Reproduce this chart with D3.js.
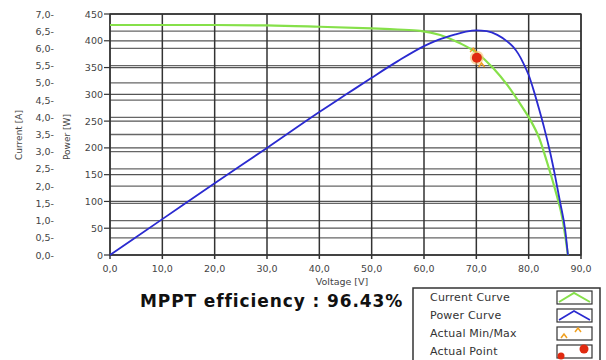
<!DOCTYPE html>
<html><head><meta charset="utf-8">
<script src="https://cdn.jsdelivr.net/npm/d3@7"></script>
<style>body{margin:0;background:#fff}svg{display:block}text{font-family:"DejaVu Sans",sans-serif}</style>
</head><body><svg id="c" width="606" height="360"></svg>
<script>
const currentVoltage = [0,10,20,30,40,50,55,59.3,63.1,66.9,69.8,73.3,75.9,78.5,80.4,82,83.5,85,86.5,87.5];
const currentA = [6.68,6.68,6.68,6.67,6.63,6.58,6.55,6.51,6.39,6.15,5.90,5.42,4.94,4.36,3.90,3.40,2.70,1.93,1.02,0];
const powerVoltage = [0,10,20,30,40,45,50,55,60,62,64,66,68,70,72,74,76,77,78,79,80,81,82,83,84,85,86,87,87.5];
const powerW = [0,67,134,200,267,299,331,362,390,399,406,412,417,419.5,418,411,398,389,376,358,336,306,272,236,196,150,99,45,0];
const minMaxPts = [{v:69.4,i:5.95},{v:71.0,i:5.52}];
const actualPoint = {v:70.1, i:5.73};
const xTicks = [0,10,20,30,40,50,60,70,80,90];
const powerTicks = [0,50,100,150,200,250,300,350,400,450];
const currentTicks = [0,0.5,1,1.5,2,2.5,3,3.5,4,4.5,5,5.5,6,6.5,7];
const legendItems = ["Current Curve","Power Curve","Actual Min/Max","Actual Point"];
const efficiencyText = "MPPT efficiency : 96.43%";

const svg = d3.select("#c");
const x = d3.scaleLinear([0,90],[110,581]);
const yP = d3.scaleLinear([0,450],[255,14]);
const yI = d3.scaleLinear([0,7],[255,14]);
const fmt = v => d3.format(".1f")(v).replace(".", ",");

// grid
const g = svg.append("g");
g.selectAll(".hi").data(currentTicks).join("line")
  .attr("x1",110).attr("x2",581).attr("y1",d=>yI(d)).attr("y2",d=>yI(d))
  .attr("stroke","#666").attr("stroke-width",1.3);
g.selectAll(".hp").data(powerTicks).join("line")
  .attr("x1",110).attr("x2",581).attr("y1",d=>yP(d)).attr("y2",d=>yP(d))
  .attr("stroke","#555").attr("stroke-width",1.3);
g.selectAll(".v").data(xTicks).join("line")
  .attr("x1",d=>x(d)).attr("x2",d=>x(d)).attr("y1",14).attr("y2",259)
  .attr("stroke","#333").attr("stroke-width",1.5);
svg.append("rect").attr("x",110).attr("y",14).attr("width",471).attr("height",241)
  .attr("fill","none").attr("stroke","#333").attr("stroke-width",1.3);

// axes labels
svg.selectAll(".pt").data(powerTicks).join("line")
  .attr("x1",104).attr("x2",110).attr("y1",d=>yP(d)).attr("y2",d=>yP(d)).attr("stroke","#333").attr("stroke-width",1.2);
svg.selectAll(".pl").data(powerTicks).join("text")
  .attr("x",103).attr("y",d=>yP(d)+3.5).attr("text-anchor","end")
  .attr("font-size",9.5).attr("fill","#444").text(d=>d);
svg.selectAll(".cl").data(currentTicks).join("text")
  .attr("x",54).attr("y",d=>yI(d)+3.5).attr("text-anchor","end")
  .attr("font-size",9.5).attr("fill","#444").text(d=>fmt(d)+"-");
svg.selectAll(".xl").data(xTicks).join("text")
  .attr("x",d=>x(d)).attr("y",272).attr("text-anchor","middle")
  .attr("font-size",9.5).attr("fill","#444").text(d=>fmt(d));
svg.append("text").attr("x",342).attr("y",285).attr("text-anchor","middle")
  .attr("font-size",9.5).attr("fill","#444").text("Voltage [V]");
svg.append("text").attr("transform","translate(22,135) rotate(-90)").attr("text-anchor","middle")
  .attr("font-size",9).attr("fill","#444").text("Current [A]");
svg.append("text").attr("transform","translate(70,137) rotate(-90)").attr("text-anchor","middle")
  .attr("font-size",9).attr("fill","#444").text("Power [W]");

// curves
const cData = currentVoltage.map((v,k)=>({v, i:currentA[k]}));
const pData = powerVoltage.map((v,k)=>({v, p:powerW[k]}));
svg.append("path").datum(cData)
  .attr("d", d3.line().x(d=>x(d.v)).y(d=>yI(d.i)).curve(d3.curveMonotoneX))
  .attr("fill","none").attr("stroke","#86e04a").attr("stroke-width",2.2);
svg.append("path").datum(pData)
  .attr("d", d3.line().x(d=>x(d.v)).y(d=>yP(d.p)).curve(d3.curveMonotoneX))
  .attr("fill","none").attr("stroke","#2a2ad0").attr("stroke-width",1.8);

// actual point + min/max
svg.append("circle").attr("cx",x(actualPoint.v)).attr("cy",yI(actualPoint.i)).attr("r",7).attr("fill","#f7c070").attr("opacity",0.6);
svg.selectAll(".mm").data(minMaxPts).join("path")
  .attr("d",d=>`M${x(d.v)-3},${yI(d.i)+2}L${x(d.v)},${yI(d.i)-2}L${x(d.v)+3},${yI(d.i)+2}`)
  .attr("fill","none").attr("stroke","#f0a020").attr("stroke-width",1.5);
svg.append("circle").attr("cx",x(actualPoint.v)).attr("cy",yI(actualPoint.i)).attr("r",5).attr("fill","#e02a10");

// efficiency text
svg.append("text").attr("x",140).attr("y",307).attr("font-size",17).attr("font-weight","bold")
  .attr("letter-spacing",0.9).attr("fill","#111").text(efficiencyText);

// legend
const lg = svg.append("g");
lg.append("rect").attr("x",413).attr("y",288).attr("width",187).attr("height",80)
  .attr("fill","#fff").attr("stroke","#333").attr("stroke-width",1.5);
const rowY = [297,315,333,351];
lg.selectAll(".lt").data(legendItems).join("text")
  .attr("x",430).attr("y",(d,k)=>rowY[k]+4).attr("font-size",11).attr("letter-spacing",0.2).attr("fill","#333").text(d=>d);
lg.selectAll(".sw").data(legendItems).join("rect")
  .attr("x",557).attr("y",(d,k)=>rowY[k]-6).attr("width",35).attr("height",13)
  .attr("fill","#fff").attr("stroke","#333").attr("stroke-width",1.2);
const carets = [["#86e04a",2],["#2a2ad0",1.6]];
carets.forEach(([c,w],k)=>{
  const yy = rowY[k];
  lg.append("path").attr("d",`M559,${yy+5}L574,${yy-4}L590,${yy+5}`).attr("fill","none").attr("stroke",c).attr("stroke-width",w);
});
lg.append("path").attr("d",`M561,${rowY[2]+5}L564,${rowY[2]+1}L567,${rowY[2]+5}`).attr("fill","none").attr("stroke","#f0a020").attr("stroke-width",1.5);
lg.append("path").attr("d",`M575,${rowY[2]-1}L578,${rowY[2]-5}L581,${rowY[2]-1}`).attr("fill","none").attr("stroke","#f0a020").attr("stroke-width",1.5);
lg.append("circle").attr("cx",561).attr("cy",rowY[3]+5).attr("r",3.5).attr("fill","#e02a10");
lg.append("circle").attr("cx",584).attr("cy",rowY[3]-2).attr("r",4.5).attr("fill","#e02a10");
</script></body></html>
